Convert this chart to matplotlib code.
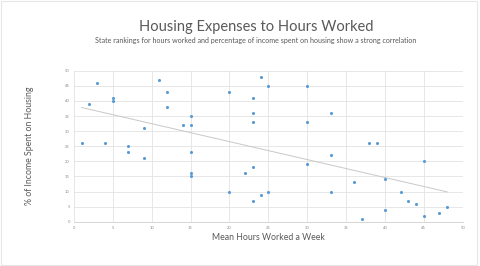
import numpy as np
import matplotlib
matplotlib.use("Agg")
import matplotlib.pyplot as plt
from matplotlib.patches import Rectangle

plt.rcParams['font.family'] = ['Lato', 'DejaVu Sans']

hours_rank = [1, 2, 3, 4, 5, 5, 7, 7, 9, 9, 11, 12, 12, 14, 15, 15, 15, 15, 15,
              20, 20, 22, 23, 23, 23, 23, 23, 24, 24, 25, 25, 30, 30, 30, 33, 33, 33,
              36, 37, 38, 39, 40, 40, 42, 43, 44, 45, 45, 47, 48]
housing_rank = [26, 39, 46, 26, 41, 40, 25, 23, 31, 21, 47, 43, 38, 32, 35, 32, 23, 16, 15,
                43, 10, 16, 41, 36, 33, 18, 7, 48, 9, 45, 10, 45, 33, 19, 36, 22, 10,
                13, 1, 26, 26, 14, 4, 10, 7, 6, 20, 2, 3, 5]

x_ticks = list(range(0, 51, 5))
y_ticks = list(range(0, 51, 5))

title = "Housing Expenses to Hours Worked"
subtitle = ("State rankings for hours worked and percentage of income spent on housing "
            "show a strong correlation")
xlabel = "Mean Hours Worked a Week"
ylabel = "% of Income Spent on Housing"

fig = plt.figure(figsize=(4.8, 2.66), dpi=100)
fig.patch.set_facecolor('white')
ax = fig.add_axes([0.154, 0.1665, 0.810, 0.5675])

x = np.array(hours_rank, dtype=float)
y = np.array(housing_rank, dtype=float)

ax.scatter(x, y, s=5, color='#5B9BD5', zorder=3, linewidths=0)

m, b = np.polyfit(x, y, 1)
xl = np.array([x.min(), x.max()])
ax.plot(xl, m * xl + b, color='#C8C8C8', lw=0.7, zorder=2)

ax.set_xlim(0, 50)
ax.set_ylim(0, 50)
ax.set_xticks(x_ticks)
ax.set_yticks(y_ticks)
ax.tick_params(axis='both', labelsize=3, colors='#A6A6A6', length=0, pad=3)
for lab in ax.get_xticklabels() + ax.get_yticklabels():
    lab.set_color('#8C8C8C')
ax.grid(True, color='#E3E3E3', lw=0.6, zorder=0)
ax.set_axisbelow(True)
for s in ['top', 'right', 'left']:
    ax.spines[s].set_visible(False)
ax.spines['bottom'].set_color('#D0D0D0')
ax.spines['bottom'].set_linewidth(0.6)

ax.set_xlabel(xlabel, fontsize=6.3, color='#595959', labelpad=2)
ax.set_ylabel(ylabel, fontsize=6.3, color='#595959', labelpad=22)

fig.text(0.533, 0.897, title, fontsize=10.5, color='#595959', ha='center', va='center')
fig.text(0.532, 0.847, subtitle, fontsize=5.15, color='#595959', ha='center', va='center')

fig.patches.append(Rectangle((0.002, 0.004), 0.992, 0.992, transform=fig.transFigure,
                             fill=False, edgecolor='#E6E6E6', lw=0.8))

fig.savefig('out.png', dpi=100, facecolor='white')
